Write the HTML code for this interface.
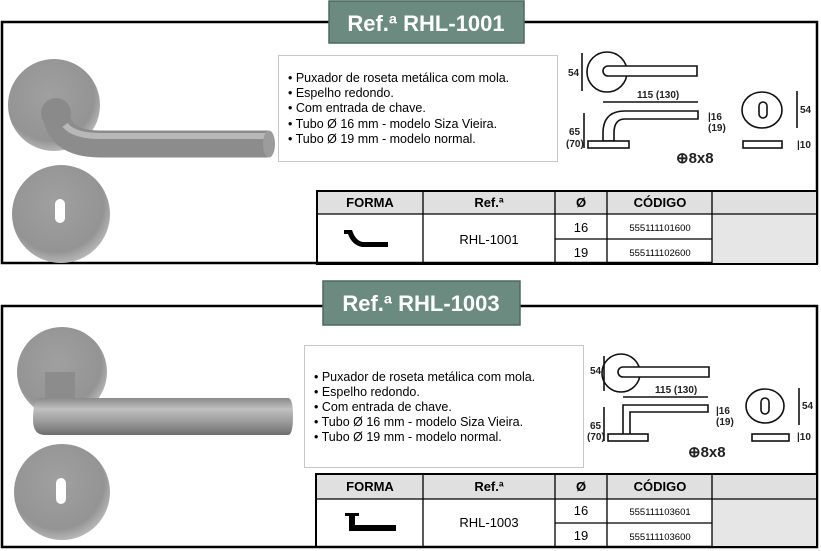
<!DOCTYPE html>
<html><head><meta charset="utf-8"><style>
html,body{margin:0;padding:0;background:#fff;}
svg{display:block;font-family:"Liberation Sans",Arial,sans-serif;}
</style></head><body>
<svg width="821" height="551" viewBox="0 0 821 551" xmlns="http://www.w3.org/2000/svg">
<defs>
<radialGradient id="rose" cx="0.45" cy="0.4" r="0.65">
<stop offset="0" stop-color="#a0a0a0"/><stop offset="0.75" stop-color="#949494"/><stop offset="1" stop-color="#c4c4c4"/>
</radialGradient>
<linearGradient id="bar" x1="0" y1="0" x2="0" y2="1">
<stop offset="0" stop-color="#8a8a8a"/><stop offset="0.3" stop-color="#c0c0c0"/><stop offset="0.65" stop-color="#9a9a9a"/><stop offset="1" stop-color="#6e6e6e"/>
</linearGradient>
</defs>

<!-- ===== Frame 1 ===== -->
<rect x="2" y="22" width="815" height="241" fill="#fff" stroke="#000" stroke-width="2.5"/>
<rect x="329" y="1" width="195" height="42" fill="#6b8a80" stroke="#4c6a60" stroke-width="1.5"/>
<text x="426" y="31" text-anchor="middle" font-size="22" font-weight="bold" fill="#fff">Ref.ª RHL-1001</text>

<!-- photo 1 -->
<circle cx="54" cy="105" r="46" fill="url(#rose)"/>
<path d="M56,112 Q58,144 100,144 L268,144" fill="none" stroke="#8c8c8c" stroke-width="27"/>
<path d="M60,112 Q62,136 100,136 L268,136" fill="none" stroke="#b8b8b8" stroke-width="6"/>
<ellipse cx="269" cy="144" rx="6" ry="13.5" fill="#9c9c9c"/>
<circle cx="56" cy="113" r="15" fill="#8a8a8a"/>
<circle cx="61" cy="214" r="49" fill="url(#rose)"/>
<rect x="55" y="199" width="10" height="24" rx="5" fill="#fff"/>

<!-- text box 1 -->
<rect x="278.5" y="55.5" width="279" height="106" fill="#fff" stroke="#c8c8c8"/>
<g font-size="12.5" fill="#000">
<text x="288" y="82">• Puxador de roseta metálica com mola.</text>
<text x="288" y="97">• Espelho redondo.</text>
<text x="288" y="112">• Com entrada de chave.</text>
<text x="288" y="128">• Tubo Ø 16 mm - modelo Siza Vieira.</text>
<text x="288" y="143">• Tubo Ø 19 mm - modelo normal.</text>
</g>

<!-- drawing 1 -->
<g fill="none" stroke="#111" stroke-width="1.6">
<line x1="582" y1="53" x2="582" y2="91"/>
<circle cx="607" cy="72" r="20"/>
<path d="M697,66 L608,66 A5,5 0 0 0 608,76 L697,76 Z" fill="#fff"/>
<line x1="603" y1="102" x2="698" y2="102"/>
<path d="M698,111 L625,111 Q603,111 603,133 L603,141 L614,141 L614,133 Q614,119 625,119 L698,119 Z" fill="#fff"/>
<rect x="588" y="141" width="41" height="7" fill="#fff"/>
<line x1="584" y1="113" x2="584" y2="148"/>
<ellipse cx="762" cy="110" rx="20" ry="18"/>
<rect x="759" y="102" width="8" height="16" rx="4"/>
<line x1="797" y1="91" x2="797" y2="128"/>
<rect x="743" y="141" width="39" height="7"/>
</g>
<g font-size="10" font-weight="bold" fill="#222">
<text x="568" y="76">54</text>
<text x="637" y="98">115 (130)</text>
<text x="569" y="135">65</text>
<text x="566" y="147">(70)</text>
<text x="708" y="120">|16</text>
<text x="708" y="131">(19)</text>
<text x="800" y="113">54</text>
<text x="797" y="148">|10</text>
</g>
<text x="676" y="163" font-size="15" font-weight="bold" fill="#222">⊕8x8</text>

<!-- table 1 -->
<rect x="317" y="191" width="500" height="23" fill="#e0e0e0"/>
<rect x="712" y="214" width="105" height="50" fill="#e6e6e6"/>
<g stroke="#000" stroke-width="1.3" fill="none">
<rect x="317" y="191" width="500" height="73" stroke-width="2"/>
<line x1="317" y1="214" x2="817" y2="214"/>
<line x1="555" y1="239" x2="712" y2="239"/>
<line x1="423" y1="191" x2="423" y2="264"/>
<line x1="555" y1="191" x2="555" y2="264"/>
<line x1="607" y1="191" x2="607" y2="264"/>
<line x1="712" y1="191" x2="712" y2="264"/>
</g>
<g font-size="13" fill="#000" text-anchor="middle">
<text x="370" y="207" font-weight="bold">FORMA</text>
<text x="489" y="207" font-weight="bold">Ref.ª</text>
<text x="581" y="207" font-weight="bold">Ø</text>
<text x="660" y="207" font-weight="bold">CÓDIGO</text>
<text x="489" y="244">RHL-1001</text>
<text x="581" y="232">16</text>
<text x="581" y="257">19</text>
<text x="660" y="231" font-size="9.5">555111101600</text>
<text x="660" y="256" font-size="9.5">555111102600</text>
</g>
<path d="M344,230 L352,230 Q356,242 364,242 L388,242 L388,247 L362,247 Q352,245 348,234 L344,234 Z" fill="#000"/>

<!-- ===== Frame 2 ===== -->
<rect x="2" y="306" width="815" height="241" fill="none" stroke="#000" stroke-width="2.5"/>
<rect x="323" y="281" width="197" height="44" fill="#6b8a80" stroke="#4c6a60" stroke-width="1.5"/>
<text x="421" y="311" text-anchor="middle" font-size="22" font-weight="bold" fill="#fff">Ref.ª RHL-1003</text>

<!-- photo 2 -->
<circle cx="62" cy="372" r="45" fill="url(#rose)"/>
<rect x="45" y="372" width="30" height="28" fill="#8c8c8c"/>
<path d="M40,398 L288,398 Q293,398 293,416 Q293,435 288,435 L45,435 Q33,435 33,420 Q33,398 40,398 Z" fill="url(#bar)"/>
<circle cx="62" cy="492" r="48" fill="url(#rose)"/>
<rect x="56" y="478" width="10" height="26" rx="5" fill="#fff"/>

<!-- text box 2 -->
<rect x="304.5" y="345.5" width="279" height="122" fill="#fff" stroke="#c8c8c8"/>
<g font-size="12.5" fill="#000">
<text x="314" y="381">• Puxador de roseta metálica com mola.</text>
<text x="314" y="396">• Espelho redondo.</text>
<text x="314" y="411">• Com entrada de chave.</text>
<text x="314" y="426">• Tubo Ø 16 mm - modelo Siza Vieira.</text>
<text x="314" y="441">• Tubo Ø 19 mm - modelo normal.</text>
</g>

<!-- drawing 2 -->
<g fill="none" stroke="#111" stroke-width="1.6">
<line x1="604" y1="356" x2="604" y2="391"/>
<circle cx="621" cy="373" r="19"/>
<path d="M709,367 L623,367 A5,5 0 0 0 623,377 L709,377 Z" fill="#fff"/>
<line x1="623" y1="397" x2="708" y2="397"/>
<path d="M708,405 L623,405 L623,435 L630,435 L630,412 L708,412 Z" fill="#fff"/>
<rect x="608" y="434" width="40" height="7" fill="#fff"/>
<line x1="604" y1="407" x2="604" y2="441"/>
<ellipse cx="765" cy="406" rx="19" ry="17"/>
<rect x="761" y="398" width="8" height="16" rx="4"/>
<line x1="799" y1="388" x2="799" y2="425"/>
<rect x="752" y="434" width="37" height="7"/>
</g>
<g font-size="10" font-weight="bold" fill="#222">
<text x="590" y="374">54</text>
<text x="655" y="393">115 (130)</text>
<text x="590" y="429">65</text>
<text x="587" y="440">(70)</text>
<text x="716" y="414">|16</text>
<text x="716" y="425">(19)</text>
<text x="802" y="409">54</text>
<text x="797" y="440">|10</text>
</g>
<text x="688" y="457" font-size="15" font-weight="bold" fill="#222">⊕8x8</text>

<!-- table 2 -->
<rect x="316" y="474" width="501" height="25" fill="#e0e0e0"/>
<rect x="712" y="499" width="105" height="49" fill="#e6e6e6"/>
<g stroke="#000" stroke-width="1.3" fill="none">
<rect x="316" y="474" width="501" height="73" stroke-width="2"/>
<line x1="316" y1="499" x2="817" y2="499"/>
<line x1="555" y1="523" x2="712" y2="523"/>
<line x1="423" y1="474" x2="423" y2="547"/>
<line x1="555" y1="474" x2="555" y2="547"/>
<line x1="607" y1="474" x2="607" y2="547"/>
<line x1="712" y1="474" x2="712" y2="547"/>
</g>
<g font-size="13" fill="#000" text-anchor="middle">
<text x="370" y="491" font-weight="bold">FORMA</text>
<text x="489" y="491" font-weight="bold">Ref.ª</text>
<text x="581" y="491" font-weight="bold">Ø</text>
<text x="660" y="491" font-weight="bold">CÓDIGO</text>
<text x="489" y="527">RHL-1003</text>
<text x="581" y="515">16</text>
<text x="581" y="540">19</text>
<text x="660" y="515" font-size="9.5">555111103601</text>
<text x="660" y="540" font-size="9.5">555111103600</text>
</g>
<path d="M345,513 L359,513 L359,516 L355,516 L355,525 L396,525 L396,531 L349,531 L349,516 L345,516 Z" fill="#000"/>
</svg>
</body></html>
